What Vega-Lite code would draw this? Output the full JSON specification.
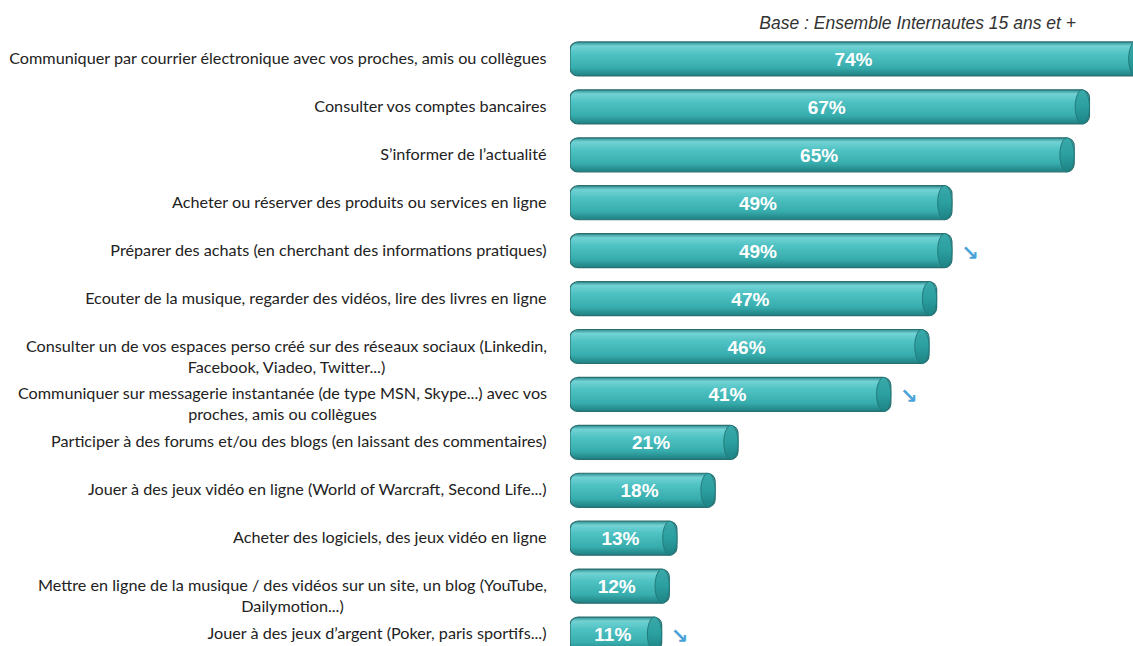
{
  "$schema": "https://vega.github.io/schema/vega-lite/v6.json",
  "autosize": "none",
  "width": 563,
  "height": 623,
  "padding": {"left": 570, "top": 35, "right": 0, "bottom": 0},
  "background": "white",
  "config": {"view": {"stroke": null}},
  "title": {
    "text": "Base  : Ensemble Internautes 15 ans et +",
    "anchor": "end",
    "dx": -85,
    "offset": 3,
    "font": "Liberation Sans",
    "fontStyle": "italic",
    "fontWeight": "normal",
    "fontSize": 17.5,
    "color": "#333333"
  },
  "data": {
    "values": [
      {"label": "Communiquer par courrier électronique avec vos proches, amis ou collègues", "pct": 74, "trend": ""},
      {"label": "Consulter vos comptes bancaires", "pct": 67, "trend": ""},
      {"label": "S’informer de l’actualité", "pct": 65, "trend": ""},
      {"label": "Acheter ou réserver des produits ou services en ligne", "pct": 49, "trend": ""},
      {"label": "Préparer des achats (en cherchant des informations pratiques)", "pct": 49, "trend": "↘"},
      {"label": "Ecouter de la musique, regarder des vidéos, lire des livres en ligne", "pct": 47, "trend": ""},
      {"label": "Consulter un de vos espaces perso créé sur des réseaux sociaux (Linkedin,|Facebook, Viadeo, Twitter...)", "pct": 46, "trend": ""},
      {"label": "Communiquer sur messagerie instantanée (de type MSN, Skype...) avec vos|proches, amis ou collègues", "pct": 41, "trend": "↘"},
      {"label": "Participer à des forums et/ou des blogs (en laissant des commentaires)", "pct": 21, "trend": ""},
      {"label": "Jouer à des jeux vidéo en ligne (World of Warcraft, Second Life...)", "pct": 18, "trend": ""},
      {"label": "Acheter des logiciels, des jeux vidéo en ligne", "pct": 13, "trend": ""},
      {"label": "Mettre en ligne de la musique / des vidéos sur un site, un blog (YouTube,|Dailymotion...)", "pct": 12, "trend": ""},
      {"label": "Jouer à des jeux d’argent (Poker, paris sportifs...)", "pct": 11, "trend": "↘"}
    ]
  },
  "encoding": {
    "y": {
      "field": "label",
      "type": "nominal",
      "sort": null,
      "title": null,
      "scale": {"paddingInner": 0.29, "paddingOuter": 0.145},
      "axis": {
        "domain": false,
        "ticks": false,
        "labelPadding": {
          "condition": [
            {"test": "indexof(datum.value, 'Linkedin') >= 0", "value": 284},
            {"test": "indexof(datum.value, 'Skype') >= 0", "value": 288},
            {"test": "indexof(datum.value, 'YouTube') >= 0", "value": 278}
          ],
          "value": 24
        },
        "labelAlign": {
          "condition": {"test": "indexof(datum.value, '|') >= 0", "value": "center"},
          "value": "right"
        },
        "labelLimit": 0,
        "labelFont": "Lato",
        "labelFontSize": 16.2,
        "labelColor": "#222222",
        "labelLineHeight": 21,
        "labelExpr": "split(datum.label, '|')"
      }
    }
  },
  "layer": [
    {
      "mark": {
        "type": "bar",
        "clip": true,
        "cornerRadius": 8,
        "stroke": "#2a6f70",
        "strokeWidth": 1.2,
        "color": {
          "gradient": "linear",
          "x1": 0, "y1": 0, "x2": 0, "y2": 1,
          "stops": [
            {"offset": 0, "color": "#2f8f90"},
            {"offset": 0.12, "color": "#72d2d4"},
            {"offset": 0.35, "color": "#4fc2c3"},
            {"offset": 0.75, "color": "#38adae"},
            {"offset": 1, "color": "#1f7f80"}
          ]
        }
      },
      "encoding": {
        "x": {"field": "pct", "type": "quantitative", "scale": {"domain": [-1, 72.7], "nice": false, "zero": false}, "axis": null},
        "x2": {"datum": -1}
      }
    },
    {
      "mark": {
        "type": "point",
        "clip": true,
        "filled": true,
        "size": 1156,
        "shape": "M -0.42 -1 A 0.42 1 0 1 1 -0.42 1 A 0.42 1 0 1 1 -0.42 -1 Z",
        "stroke": "#237a7b",
        "strokeWidth": 1,
        "opacity": 1,
        "color": {
          "gradient": "linear",
          "x1": 0, "y1": 0, "x2": 0, "y2": 1,
          "stops": [
            {"offset": 0, "color": "#3aa9aa"},
            {"offset": 0.5, "color": "#2b9fa0"},
            {"offset": 1, "color": "#1d8283"}
          ]
        }
      },
      "encoding": {
        "x": {"field": "pct", "type": "quantitative"}
      }
    },
    {
      "transform": [
        {"calculate": "(datum.pct - 1) / 2", "as": "mid"},
        {"calculate": "datum.pct + '%'", "as": "txt"}
      ],
      "mark": {
        "type": "text",
        "font": "Liberation Sans",
        "fontWeight": "bold",
        "fontSize": 19,
        "color": "white",
        "align": "center",
        "baseline": "middle",
        "dy": 1,
        "dx": -3
      },
      "encoding": {
        "x": {"field": "mid", "type": "quantitative"},
        "text": {"field": "txt"}
      }
    },
    {
      "mark": {
        "type": "text",
        "font": "DejaVu Sans",
        "fontSize": 21,
        "fontWeight": "bold",
        "color": "#4aa3d8",
        "align": "center",
        "baseline": "middle",
        "dx": 18,
        "dy": 3
      },
      "encoding": {
        "x": {"field": "pct", "type": "quantitative"},
        "text": {"field": "trend"}
      }
    }
  ]
}
